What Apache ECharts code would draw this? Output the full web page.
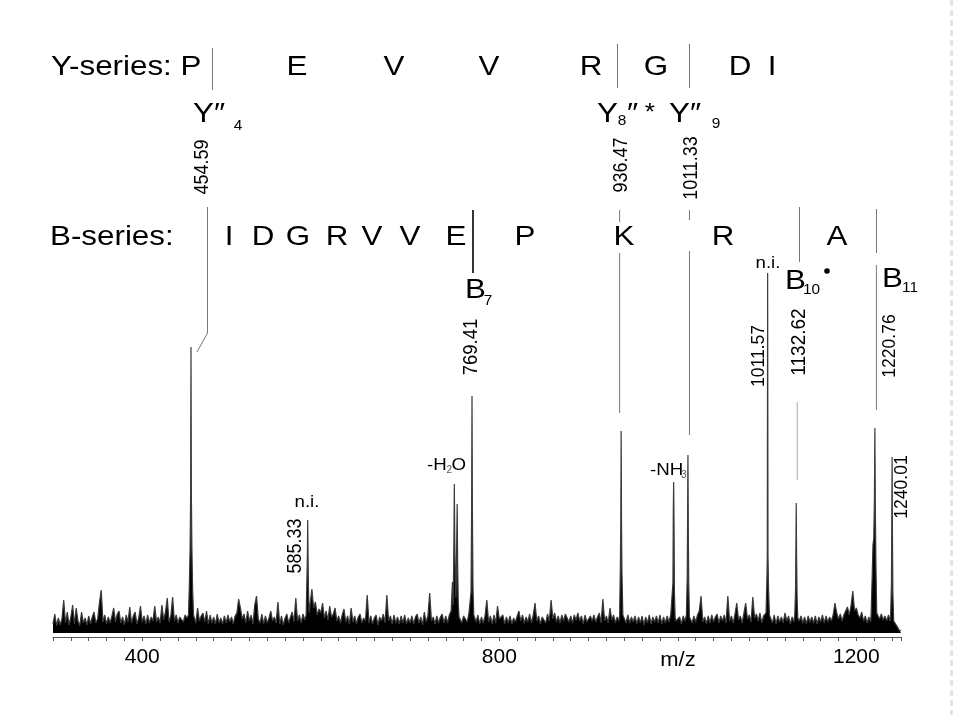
<!DOCTYPE html>
<html>
<head>
<meta charset="utf-8">
<script src="https://cdn.jsdelivr.net/npm/echarts@6/dist/echarts.min.js"></script>
<style>
  html, body { margin: 0; padding: 0; background: #fff; }
  #chart { width: 955px; height: 715px; }
</style>
</head>
<body>
<div id="chart"></div>
<script>
// noise floor, one reading every 2 m/z starting at 300
const noiseStart = 300;
const noiseStep = 2;
const noise = [
  9, 19, 7, 15, 8, 14, 33, 10, 21, 8, 16, 28, 9, 25, 12, 7, 21, 10, 15, 8, 17, 9, 16, 21, 10,
  14, 30, 43, 11, 18, 9, 16, 10, 17, 25, 11, 19, 22, 10, 16, 8, 18, 11, 26, 10, 17, 21, 9, 15, 27,
  11, 17, 9, 18, 10, 16, 12, 27, 11, 16, 10, 28, 13, 21, 35, 11, 17, 36, 12, 18, 10, 16, 14, 11, 18,
  15, 22, 10, 12, 20, 10, 25, 12, 17, 20, 11, 22, 9, 18, 10, 16, 9, 19, 10, 15, 9, 17, 10, 18, 11,
  16, 9, 17, 20, 34, 25, 14, 19, 10, 22, 12, 18, 9, 28, 37, 14, 10, 19, 9, 17, 10, 15, 22, 12, 16,
  10, 31, 9, 17, 8, 15, 19, 10, 16, 21, 11, 35, 12, 18, 10, 19, 13, 17, 12, 22, 44, 25, 31, 18, 24,
  20, 30, 15, 22, 13, 27, 16, 19, 25, 12, 17, 10, 18, 24, 11, 17, 9, 25, 11, 17, 9, 16, 19, 10, 15,
  12, 38, 10, 17, 9, 15, 18, 8, 16, 12, 19, 10, 38, 12, 17, 9, 18, 10, 16, 9, 17, 10, 18, 9, 15,
  10, 17, 9, 16, 19, 10, 16, 8, 21, 11, 17, 40, 12, 16, 9, 17, 10, 16, 19, 10, 17, 10, 18, 22, 14,
  12, 10, 16, 15, 10, 17, 19, 11, 20, 10, 10, 16, 11, 18, 9, 16, 10, 17, 33, 11, 17, 9, 18, 10, 27,
  14, 12, 18, 9, 16, 10, 17, 9, 15, 11, 17, 22, 12, 18, 10, 16, 11, 19, 10, 18, 30, 12, 17, 9, 16,
  14, 10, 19, 12, 33, 14, 20, 11, 17, 10, 18, 12, 19, 21, 11, 17, 10, 18, 13, 20, 12, 17, 9, 18, 11,
  10, 17, 12, 18, 11, 16, 20, 10, 34, 12, 17, 10, 25, 13, 18, 10, 16, 12, 12, 12, 16, 10, 18, 10, 16,
  11, 17, 9, 16, 10, 17, 8, 16, 10, 18, 9, 16, 11, 17, 10, 18, 9, 16, 10, 17, 11, 18, 12, 12, 12,
  10, 16, 9, 17, 12, 12, 12, 16, 10, 17, 11, 18, 22, 37, 11, 16, 9, 17, 10, 18, 11, 16, 19, 10, 17,
  12, 18, 10, 37, 12, 17, 10, 19, 30, 13, 17, 10, 20, 30, 14, 18, 11, 36, 15, 19, 12, 20, 10, 17, 16,
  12, 12, 16, 10, 18, 9, 17, 11, 16, 10, 20, 12, 17, 9, 16, 11, 12, 12, 12, 17, 10, 16, 9, 17, 11,
  16, 10, 17, 9, 16, 11, 18, 10, 17, 11, 16, 12, 18, 30, 20, 14, 19, 12, 18, 22, 26, 18, 27, 42, 22,
  25, 18, 15, 21, 12, 17, 10, 16, 11, 12, 12, 12, 21, 14, 19, 13, 17, 12, 18, 12, 12, 12, 9, 6, 3, 2
];

// peaks, each as [m/z, intensity] points across the peak
const peak454 = [[451.8, 18], [452.8, 50], [453.6, 85], [454.2, 140], [454.59, 286], [455.0, 140], [455.6, 85], [456.4, 45], [457.4, 18]];
const peak585 = [[583.6, 18], [584.5, 56], [585.0, 80], [585.33, 113], [585.7, 80], [586.2, 45], [587.0, 20]];
const peakH2O = [[746.6, 20], [747.5, 51], [748.3, 28], [749.1, 90], [749.6, 149], [750.1, 95], [750.7, 55], [751.4, 35], [752.2, 85], [752.8, 129], [753.3, 70], [754.0, 30], [754.9, 16]];
const peak769 = [[767.3, 20], [768.3, 41], [769.0, 128], [769.41, 237], [769.8, 128], [770.5, 45], [771.4, 18]];
const peak936 = [[934.8, 18], [935.6, 68], [936.1, 111], [936.47, 202], [936.9, 111], [937.4, 60], [938.4, 18]];
const peakNH3 = [[993.6, 20], [994.5, 50], [994.9, 121], [995.3, 151], [995.7, 115], [996.2, 40], [997.0, 15]];
const peak1011 = [[1009.6, 18], [1010.5, 55], [1010.9, 110], [1011.33, 178], [1011.7, 105], [1012.2, 50], [1013.0, 16]];
const peak1101 = [[1098.8, 20], [1099.7, 50], [1100.2, 77], [1100.6, 360], [1101.0, 77], [1101.6, 45], [1102.6, 18]];
const peak1132 = [[1131.0, 18], [1131.9, 45], [1132.3, 90], [1132.62, 130], [1133.0, 80], [1133.6, 35], [1134.4, 15]];
const peak1220 = [[1216.5, 18], [1217.8, 60], [1218.6, 88], [1219.5, 95], [1220.2, 133], [1220.76, 205], [1221.2, 130], [1221.9, 70], [1222.8, 20]];
const peak1240 = [[1238.4, 18], [1239.3, 50], [1239.7, 113], [1240.01, 176], [1240.4, 100], [1240.9, 40], [1241.8, 12]];

const peaks = [peak454, peak585, peakH2O, peak769, peak936, peakNH3, peak1011, peak1101, peak1132, peak1220, peak1240];

// labelled peaks and the text printed next to them
const labelMz = [454.59, 936.47, 1011.33, 769.41, 585.33, 1100.6, 1132.62, 1220.76, 1240.01];
const labelText = ['454.59', '936.47', '1011.33', '769.41', '585.33', '1011.57', '1132.62', '1220.76', '1240.01'];

const ySeries = ['P', 'E', 'V', 'V', 'R', 'G', 'D', 'I'];
const bSeries = ['I', 'D', 'G', 'R', 'V', 'V', 'E', 'P', 'K', 'R', 'A'];
const xTickLabels = [400, 800, 1200];

const FONT = '"Liberation Sans", Arial, sans-serif';

// merge noise and peaks into one spectrum
const spans = peaks.map(p => [p[0][0], p[p.length - 1][0]]);
const spectrum = [];
noise.forEach((h, i) => {
  const mz = noiseStart + i * noiseStep;
  if (!spans.some(s => mz >= s[0] && mz <= s[1])) spectrum.push([mz, h]);
});
peaks.forEach(p => p.forEach(pt => spectrum.push(pt)));
spectrum.sort((a, b) => a[0] - b[0]);

let chart = echarts.init(document.getElementById('chart'));
chart.setOption({
  animation: false,
  grid: { left: 53, right: 54, top: 39, bottom: 78 },
  xAxis: {
    type: 'value',
    min: 300,
    max: 1250,
    interval: 20,
    axisLine: { onZero: false, lineStyle: { color: '#555', width: 1 } },
    axisTick: { length: 4, lineStyle: { color: '#555' } },
    axisLabel: {
      formatter: v => (xTickLabels.includes(v) ? String(v) : ''),
      fontSize: 21,
      color: '#000',
      fontFamily: FONT,
      margin: 10,
    },
    splitLine: { show: false },
  },
  yAxis: { type: 'value', min: -4, max: 594, show: false },
  series: [
    {
      type: 'line',
      data: spectrum,
      symbol: 'none',
      silent: true,
      lineStyle: { color: '#3a3a3a', width: 1.2 },
      areaStyle: { color: '#000', opacity: 1 },
    },
  ],
});

const X = v => chart.convertToPixel({ xAxisIndex: 0 }, v);

function text(str, x, y, size, o = {}) {
  return {
    type: 'text',
    x: x,
    y: y,
    rotation: o.rot || 0,
    scaleX: o.sx || 1,
    scaleY: o.sy || 1,
    silent: true,
    style: {
      text: str,
      fontSize: size,
      fontFamily: FONT,
      fill: o.color || '#000',
      align: o.align || 'center',
      verticalAlign: 'middle',
    },
  };
}
function vline(x, y1, y2, color, width) {
  return {
    type: 'line',
    silent: true,
    shape: { x1: x, y1: y1, x2: x, y2: y2 },
    style: { stroke: color || '#777', lineWidth: width || 1 },
  };
}

const BIG = 28.5;
const g = [];

// Y-series row
g.push(text('Y-series: ' + ySeries[0], 51, 67, BIG, { align: 'left', sx: 1.1 }));
const yLetterX = [297, 394, 489, 591, 656, 740, 772];
ySeries.slice(1).forEach((s, i) => g.push(text(s, yLetterX[i], 67, BIG, { sx: 1.1 })));
g.push(vline(212.5, 48, 90), vline(617.5, 44, 88), vline(689.5, 44, 88));

// Y fragment labels
g.push(text('Y\u2033', 193, 114, BIG, { align: 'left', sx: 1.1 }));
g.push(text('4', 238, 126, 14, { sx: 1.1 }));
g.push(text('Y', 597, 114, BIG, { align: 'left', sx: 1.1 }));
g.push(text('8', 622, 121, 14, { sx: 1.1 }));
g.push(text('\u2033', 627, 114, BIG, { align: 'left', sx: 1.1 }));
g.push(text('*', 650, 113, 24, { sx: 1.1 }));
g.push(text('Y\u2033', 669, 114, BIG, { align: 'left', sx: 1.1 }));
g.push(text('9', 716, 124, 14, { sx: 1.1 }));

// B-series row
g.push(text('B-series:', 50, 237, BIG, { align: 'left', sx: 1.1 }));
const bLetterX = [229, 263, 298, 337, 372, 410, 456, 525, 624, 723, 837];
bSeries.forEach((s, i) => g.push(text(s, bLetterX[i], 237, BIG, { sx: 1.1 })));
g.push(vline(473, 210, 273, '#000', 1.6), vline(799.5, 207, 262), vline(876.5, 209, 253));

// leader lines
g.push({
  type: 'polyline',
  silent: true,
  shape: { points: [[X(454.59) + 16.5, 207], [X(454.59) + 16.5, 333], [X(454.59) + 6, 352]] },
  style: { stroke: '#777', lineWidth: 1, fill: null },
});
g.push(vline(X(936.47) - 1.5, 210, 222), vline(X(936.47) - 1.5, 253, 413));
g.push(vline(X(1011.33) + 1.5, 210, 220), vline(X(1011.33) + 1.5, 251, 435));
g.push(vline(X(1132.62) + 1, 402, 480, '#aaa'));
g.push(vline(X(1220.76) + 1.5, 265, 410));

// rotated m/z labels: [dx from peak, centre y, font size]
const labelPos = [
  [12, 167, 18], [0, 165, 18], [4, 168, 18], [-1, 347, 18.5], [-12, 546, 18],
  [-9, 356, 17.5], [3, 342, 19], [15, 346, 17.5], [10, 487, 17.5],
];
labelText.forEach((t, i) => {
  const p = labelPos[i];
  g.push(text(t, X(labelMz[i]) + p[0], p[1], p[2], { rot: Math.PI / 2, sy: 1.1 }));
});

// B fragment labels
g.push(text('B', 465, 290, BIG, { align: 'left', sx: 1.1 }));
g.push(text('7', 488, 301, 14, { sx: 1.1 }));
g.push(text('B', 785, 281, BIG, { align: 'left', sx: 1.1 }));
g.push(text('10', 803, 290, 14, { align: 'left', sx: 1.1 }));
g.push({ type: 'circle', silent: true, shape: { cx: 827, cy: 271, r: 2.8 }, style: { fill: '#000' } });
g.push(text('B', 882, 279, BIG, { align: 'left', sx: 1.1 }));
g.push(text('11', 902, 288, 14, { align: 'left', sx: 1.1 }));

// small annotations
g.push(text('n.i.', 307, 502, 17, { sx: 1.1 }));
g.push(text('n.i.', 768, 263, 17, { sx: 1.1 }));
g.push(text('-H', 427, 465, 17, { align: 'left', sx: 1.1 }));
g.push(text('2', 446.5, 470, 10, { align: 'left', color: '#555' }));
g.push(text('O', 451.5, 465, 17, { align: 'left', sx: 1.1 }));
g.push(text('-NH', 650, 470, 17, { align: 'left', sx: 1.1 }));
g.push(text('3', 681, 475, 10, { align: 'left', color: '#555' }));

// axis name
g.push(text('m/z', 678, 660, 20, { sx: 1.1 }));

// faint dashed frame edge on the right
g.push({
  type: 'line',
  silent: true,
  shape: { x1: 951.5, y1: 0, x2: 951.5, y2: 715 },
  style: { stroke: '#e4e4e4', lineWidth: 3, lineDash: [6, 4] },
});

chart.setOption({ graphic: g });
</script>
</body>
</html>
